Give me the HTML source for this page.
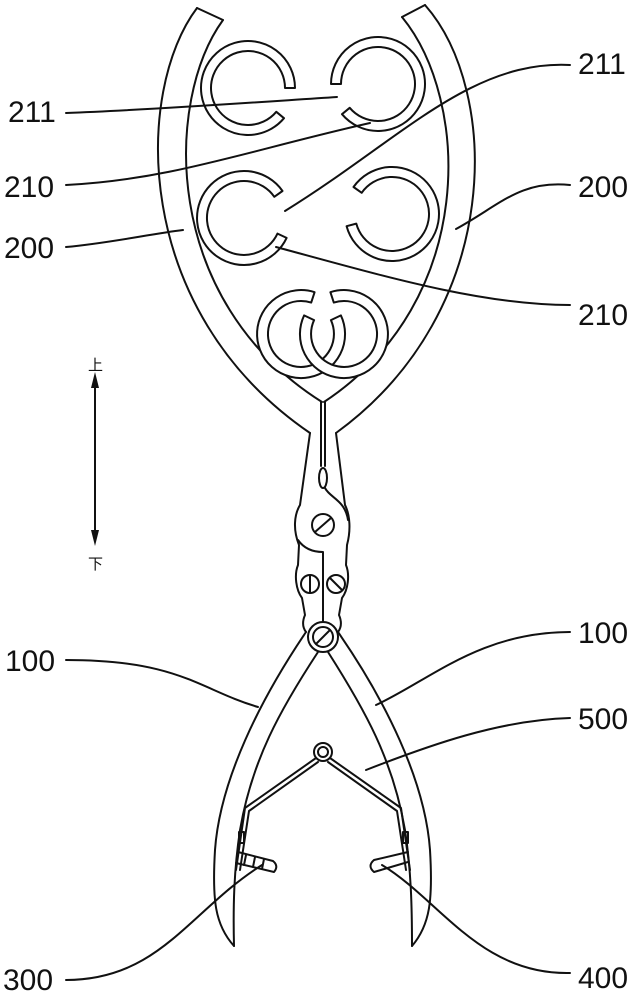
<!DOCTYPE html>
<html><head><meta charset="utf-8"><style>
html,body{margin:0;padding:0;background:#fff;}
svg{display:block;}
text{font-family:"Liberation Sans",sans-serif;font-size:30px;fill:#111;}
.cj{font-family:"Liberation Sans","Noto Sans CJK SC",sans-serif;font-size:15px;}
</style></head><body>
<svg id="s" width="637" height="1000" viewBox="0 0 637 1000" xmlns="http://www.w3.org/2000/svg">
<g fill="none" stroke="#111" stroke-width="2" stroke-linejoin="round" stroke-linecap="round">
<!-- jaws 200 -->
<path d="M197,8 C135,90 130,310 310,433"/>
<path d="M223,20 C165,100 160,300 322,402"/>
<path d="M197,8 L223,20"/>
<path d="M425,5 C500,90 505,310 336,433"/>
<path d="M402,17 C470,100 478,300 324,402"/>
<path d="M402,17 L425,5"/>
<!-- neck -->
<path d="M310,433 L300,505 C294,515 293,530 299,545 L298,565 C294,575 296,590 302,598 L305,615 C302,622 303,628 306,632"/>
<path d="M336,433 L345,505 C350,515 351,530 347,545 L346,565 C350,575 348,590 342,598 L339,615 C342,622 341,628 338,632"/>
<path d="M321,402 L321,466 M325,402 L325,466"/>
<ellipse cx="323" cy="478" rx="4" ry="10"/>
<path d="M325,488 C330,498 345,500 348,520"/>
<path d="M298,540 C305,550 315,552 323,552 L323,621"/>
<circle cx="323" cy="525" r="11"/><path d="M315,532 L331,518"/>
<circle cx="310" cy="584" r="9"/><path d="M310,576 L310,592"/>
<circle cx="336" cy="584" r="9"/><path d="M330,578 L342,590"/>
<circle cx="323" cy="637" r="15"/>
<circle cx="323" cy="637" r="10"/><path d="M316,644 L330,630"/>
<!-- handles 100 -->
<path d="M306,632 C260,700 220,780 215,850 C212,900 215,925 234,946"/>
<path d="M318,652 C280,710 252,760 240,830 C234,870 233,905 234,946"/>
<path d="M338,632 C385,700 425,780 430,850 C433,900 430,925 412,946"/>
<path d="M328,652 C365,710 393,760 405,830 C411,870 412,905 412,946"/>
<!-- spring 500 -->
<circle cx="323" cy="752" r="9"/><circle cx="323" cy="752" r="5"/>
<path d="M316,758 L245,808 L236,870 M318,762 L249,811 L240,870"/>
<path d="M330,758 L401,808 L410,870 M328,762 L397,811 L406,870"/>
<rect x="239" y="832" width="5" height="11"/>
<rect x="403" y="832" width="5" height="11"/>
<!-- teeth -->
<path d="M238,852 L273,861 Q279,866 274,872 L236,863"/>
<path d="M246,855 L244,865 M255,857 L253,867 M264,859 L262,869"/>
<path d="M408,852 L374,860 Q367,866 374,872 L408,862"/>
<!-- rings -->
<path id="rings"/>
<path id="rb1" fill="#fff"/>
<path id="rb2" fill="#fff"/>
<!-- leaders -->
<path d="M66,113 C150,110 260,102 337,97"/>
<path d="M66,185 C170,180 250,150 370,123"/>
<path d="M66,247 C110,243 150,234 183,230"/>
<path d="M570,65 C470,60 400,140 285,211"/>
<path d="M570,185 C520,180 500,205 456,229"/>
<path d="M570,305 C480,305 380,275 276,247"/>
<path d="M66,660 C180,660 200,690 258,707"/>
<path d="M570,632 C480,632 430,680 376,705"/>
<path d="M570,718 C500,720 430,745 366,770"/>
<path d="M66,980 C160,980 190,910 262,865"/>
<path d="M570,973 C480,975 440,900 382,865"/>
<!-- arrow -->
<path d="M95,378 L95,540"/>
</g>
<path d="M95,372 L91,388 L99,388 Z M95,546 L91,530 L99,530 Z" fill="#111"/>
<text class="cj" x="88" y="370">上</text>
<text class="cj" x="88" y="569">下</text>
<text x="8" y="122">211</text>
<text x="4" y="197">210</text>
<text x="4" y="258">200</text>
<text x="578" y="74">211</text>
<text x="578" y="197">200</text>
<text x="578" y="325">210</text>
<text x="5" y="671">100</text>
<text x="578" y="643">100</text>
<text x="578" y="729">500</text>
<text x="3" y="990">300</text>
<text x="578" y="988">400</text>
</svg>
<script>
function ann(cx,cy,ro,ri,g1,g2){
 var r=Math.PI/180,a=g2*r,b=(g1+360)*r;
 function p(R,t){return (cx+R*Math.cos(t)).toFixed(1)+","+(cy+R*Math.sin(t)).toFixed(1);}
 return "M"+p(ro,a)+" A"+ro+","+ro+" 0 1 1 "+p(ro,b)+" L"+p(ri,b)+" A"+ri+","+ri+" 0 1 0 "+p(ri,a)+" Z ";
}
var d=ann(248,88,47,37,0,40)+ann(378,84,47,37,140,180)+ann(244,218,47,37,-35,25)+ann(392,214,47,37,165,215);
document.getElementById("rings").setAttribute("d",d);
document.getElementById("rb1").setAttribute("d",ann(301,334,44,33,-72,-25));
document.getElementById("rb2").setAttribute("d",ann(344,334,44,33,-155,-108));
</script>
</body></html>
